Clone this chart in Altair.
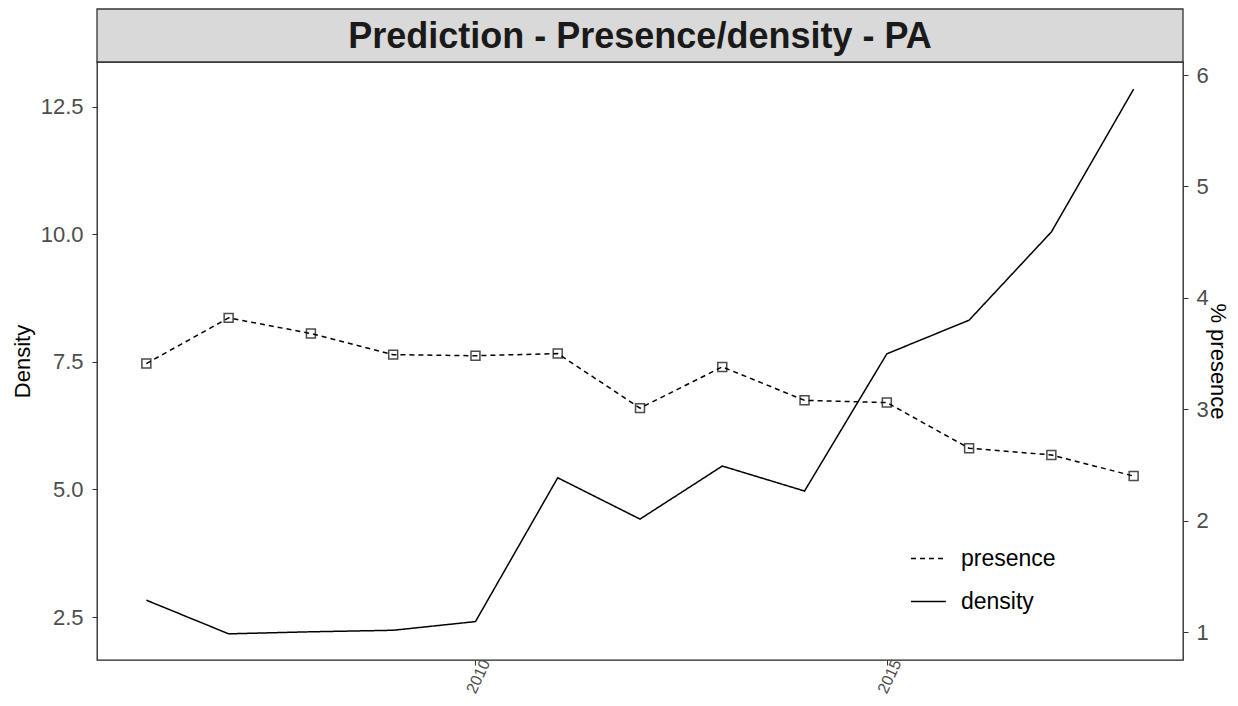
import altair as alt
import pandas as pd

years = list(range(2006, 2019))
density = [2.83, 2.17, 2.21, 2.24, 2.41, 5.23, 4.42, 5.46, 4.97, 7.66, 8.32, 10.05, 12.85]
presence = [3.41, 3.82, 3.68, 3.49, 3.48, 3.50, 3.01, 3.38, 3.08, 3.06, 2.65, 2.59, 2.40]
series_names = ["presence", "density"]
strip_title = "Prediction - Presence/density - PA"

W, H = 1086, 598
FONT = "Liberation Sans"

df_d = pd.DataFrame({"year": years, "value": density, "series": "density"})
df_p = pd.DataFrame({"year": years, "value": presence, "series": "presence"})
df_t = pd.DataFrame({"t": [strip_title]})

xenc = alt.X("year:Q", scale=alt.Scale(domain=[2005.4, 2018.6], nice=False, zero=False),
             axis=alt.Axis(values=[2010, 2015], format="d", title=None, labelAngle=-65,
                           labelAlign="right", labelBaseline="middle", labelPadding=-5,
                           labelOffset=10, labelFontSize=16))

dash = alt.StrokeDash("series:N",
                      scale=alt.Scale(domain=series_names, range=[[5, 4], [1, 0]]),
                      legend=alt.Legend(title=None, orient="none", legendX=813, legendY=478,
                                        symbolType="stroke", symbolSize=1225,
                                        symbolStrokeColor="black", symbolStrokeWidth=1.5,
                                        labelFontSize=23, labelFont=FONT, labelColor="black",
                                        labelOffset=14, rowPadding=12, padding=0))

dens_line = alt.Chart(df_d).mark_line(color="black", strokeWidth=1.5).encode(
    x=xenc,
    y=alt.Y("value:Q", scale=alt.Scale(domain=[1.657, 13.382], nice=False, zero=False),
            axis=alt.Axis(title="Density", orient="left", values=[2.5, 5.0, 7.5, 10.0, 12.5],
                          format=".1f", titlePadding=6, labelPadding=9)),
    strokeDash=dash,
)

ypres = alt.Y("value:Q", scale=alt.Scale(domain=[0.749, 6.117], nice=False, zero=False),
              axis=alt.Axis(title="% presence", orient="right", values=[1, 2, 3, 4, 5, 6],
                            format="d", titlePadding=-3, labelPadding=8))

pres_line = alt.Chart(df_p).mark_line(color="black", strokeWidth=1.5).encode(
    x=xenc, y=ypres, strokeDash=dash)
pres_pts = alt.Chart(df_p).mark_point(shape="square", filled=False, size=80,
                                      color="black", strokeWidth=1.5).encode(x=xenc, y=ypres)
pres_layer = alt.layer(pres_line, pres_pts)

strip_rect = alt.Chart(df_t).mark_rect(fill="#d9d9d9", stroke="#333333", strokeWidth=1.3).encode(
    x=alt.value(0), x2=alt.value(W), y=alt.value(-53), y2=alt.value(0))
strip_text = alt.Chart(df_t).mark_text(font=FONT, fontSize=36, fontWeight="bold",
                                       color="#1a1a1a", baseline="middle", align="center").encode(
    x=alt.value(W / 2), y=alt.value(-25), text="t:N")

chart = alt.layer(dens_line, pres_layer, strip_rect, strip_text).resolve_scale(
    y="independent"
).properties(
    width=W, height=H,
    autosize=alt.AutoSizeParams(type="none"),
    padding={"left": 89, "top": 54, "right": 47, "bottom": 38},
    background="white",
).configure_view(
    stroke="#222222", strokeWidth=1.3
).configure_axis(
    grid=False, domain=False, ticks=True, tickColor="#333333", tickSize=5,
    labelFont=FONT, labelFontSize=22, labelColor="#4d4d4d",
    titleFont=FONT, titleFontSize=22, titleFontWeight="normal", titleColor="black",
)

chart.save("out.html", embed_options={"renderer": "svg", "actions": False})
